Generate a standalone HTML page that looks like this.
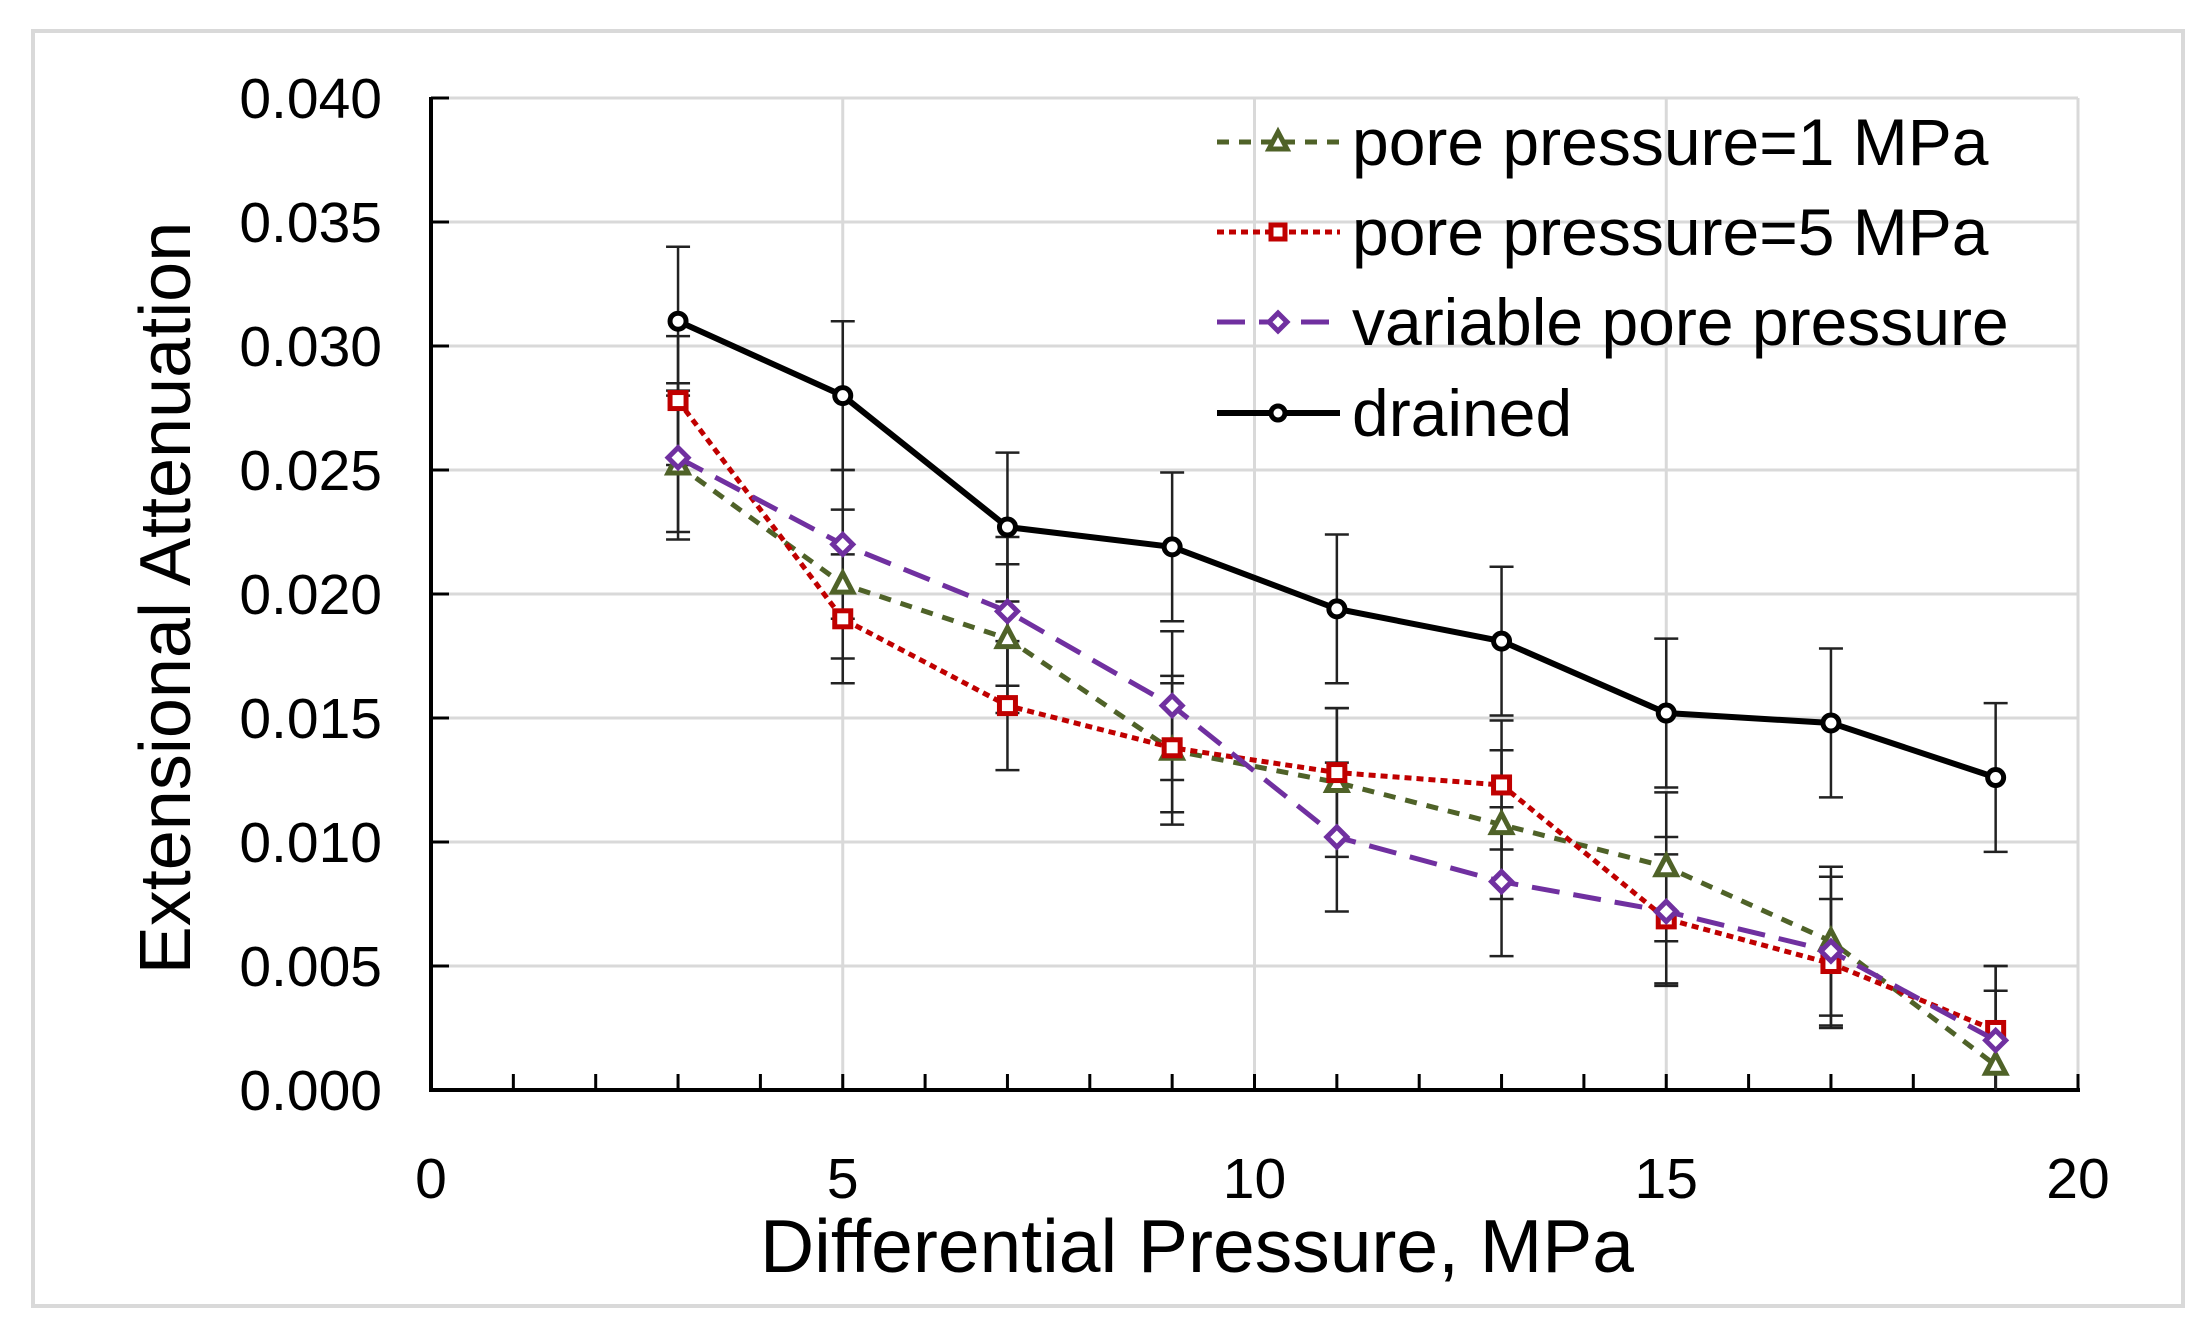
<!DOCTYPE html>
<html><head><meta charset="utf-8"><style>
html,body{margin:0;padding:0;background:#fff;}
svg{display:block;font-family:"Liberation Sans",Arial,sans-serif;}
</style></head><body>
<svg id="chart" width="2212" height="1337" viewBox="0 0 2212 1337">
<defs><clipPath id="plotclip"><rect x="431" y="90" width="1660" height="1000"/></clipPath></defs>
<rect x="33" y="31" width="2150" height="1275" fill="#fff" stroke="#d9d9d9" stroke-width="4"/>
<g id="grid"></g><g id="axes"></g><g id="series" clip-path="url(#plotclip)"></g><g id="legend"></g>
<text x="1197" y="1272" font-size="75" text-anchor="middle">Differential Pressure, MPa</text>
<text transform="translate(190,598) rotate(-90)" font-size="72" text-anchor="middle">Extensional Attenuation</text>
</svg>
<script>
const xCats = [3,5,7,9,11,13,15,17,19];
const drained = [0.031,0.028,0.0227,0.0219,0.0194,0.0181,0.0152,0.0148,0.0126];
const pp1 = [0.0252,0.0204,0.0182,0.0137,0.0124,0.0107,0.009,0.006,0.001];
const pp5 = [0.0278,0.019,0.0155,0.0138,0.0128,0.0123,0.0069,0.0051,0.0024];
const variable = [0.0255,0.022,0.0193,0.0155,0.0102,0.0084,0.0072,0.0056,0.002];
const drainedErr = [0.003,0.003,0.003,0.003,0.003,0.003,0.003,0.003,0.003];
const pp1Err = [0.003,0.003,0.003,0.003,0.003,0.003,0.003,0.003,0.003];
const pp5Err = [0.0026,0.0026,0.0026,0.0026,0.0026,0.0026,0.0026,0.0026,0.0026];
const varErr = [0.003,0.003,0.003,0.003,0.003,0.003,0.003,0.003,0.003];
const yTicks = [0,0.005,0.01,0.015,0.02,0.025,0.03,0.035,0.04];
const yTickLabels = ["0.000","0.005","0.010","0.015","0.020","0.025","0.030","0.035","0.040"];
const xTicks = [0,5,10,15,20];
const xTickLabels = ["0","5","10","15","20"];

const NS="http://www.w3.org/2000/svg";
const X0=431,X1=2078,Y0=1090,Y1=98;
const sx=v=>X0+(v-0)/(20-0)*(X1-X0);
const sy=v=>Y0-(v-0)/(0.04-0)*(Y0-Y1);
function mk(tag,attrs,parent){const e=document.createElementNS(NS,tag);for(const k in attrs)e.setAttribute(k,attrs[k]);parent.appendChild(e);return e;}
const grid=document.getElementById('grid'),axes=document.getElementById('axes'),ser=document.getElementById('series'),leg=document.getElementById('legend');

yTicks.forEach((t,i)=>{
  if(t>0){const g=mk('line',{x1:X0,x2:X1,y1:sy(t),y2:sy(t),stroke:'#d9d9d9','stroke-width':3},grid);
  
  }
  const tk=mk('line',{x1:X0,x2:X0+18,y1:sy(t),y2:sy(t),stroke:'#000','stroke-width':3},axes);
  
  
  const lb=mk('text',{x:382,y:sy(t)+20,'font-size':57,'text-anchor':'end'},axes);lb.textContent=yTickLabels[i];
  
  
});
xTicks.forEach((t,i)=>{
  if(t>0){const g=mk('line',{x1:sx(t),x2:sx(t),y1:Y1,y2:Y0,stroke:'#d9d9d9','stroke-width':3},grid);
  
  }
  const lb=mk('text',{x:sx(t),y:1198,'font-size':57,'text-anchor':'middle'},axes);lb.textContent=xTickLabels[i];
  
  
});
for(let v=1;v<=20;v++){
  const tk=mk('line',{x1:sx(v),x2:sx(v),y1:Y0,y2:Y0-16,stroke:'#000','stroke-width':3},axes);
  
  
}
const ya=mk('line',{x1:X0,x2:X0,y1:Y1-1,y2:Y0+2,stroke:'#000','stroke-width':4},axes);


const xa=mk('line',{x1:X0-2,x2:X1+2,y1:Y0,y2:Y0,stroke:'#000','stroke-width':4},axes);



function marker(type,cx,cy,color,parent,size){
  const s=size||10;let m;
  if(type==='tri') m=mk('polygon',{points:`${cx},${cy-s-1} ${cx-s},${cy+s-2} ${cx+s},${cy+s-2}`},parent);
  else if(type==='sq') m=mk('rect',{x:cx-s+2,y:cy-s+2,width:2*s-4,height:2*s-4},parent);
  else if(type==='dia') m=mk('polygon',{points:`${cx},${cy-s} ${cx+s},${cy} ${cx},${cy+s} ${cx-s},${cy}`},parent);
  else m=mk('circle',{cx:cx,cy:cy,r:s-2},parent);
  m.setAttribute('fill','#fff');m.setAttribute('stroke',color);m.setAttribute('stroke-width',5);
  return m;
}
const defs=[
 {name:'pp1',vals:pp1,err:pp1Err,color:'#4f6228',dash:'12 10',w:5,m:'tri',label:'pore pressure=1 MPa'},
 {name:'pp5',vals:pp5,err:pp5Err,color:'#c00000',dash:'7 5',w:5,m:'sq',label:'pore pressure=5 MPa'},
 {name:'variable',vals:variable,err:varErr,color:'#7030a0',dash:'28 14',w:5,m:'dia',label:'variable pore pressure'},
 {name:'drained',vals:drained,err:drainedErr,color:'#000',dash:'',w:6,m:'circ',label:'drained'}
];
defs.forEach(d=>{
  d.vals.forEach((v,i)=>{
    const x=sx(xCats[i]),yt=sy(v+d.err[i]),yb=sy(v-d.err[i]);
    const g=mk('g',{stroke:'#222','stroke-width':2.5},ser);
    
    
    mk('line',{x1:x,x2:x,y1:yt,y2:yb},g);
    mk('line',{x1:x-12,x2:x+12,y1:yt,y2:yt},g);
    mk('line',{x1:x-12,x2:x+12,y1:yb,y2:yb},g);
  });
});
defs.forEach(d=>{
  const pts=d.vals.map((v,i)=>sx(xCats[i])+','+sy(v)).join(' ');
  const pl=mk('polyline',{points:pts,fill:'none',stroke:d.color,'stroke-width':d.w,'stroke-dasharray':d.dash},ser);
  
  
  d.vals.forEach((v,i)=>{
    const m=marker(d.m,sx(xCats[i]),sy(v),d.color,ser);
    
    
  });
});
const legY=[142,232,322,413];
defs.forEach((d,i)=>{
  const g=mk('g',{},leg);
  
  
  mk('line',{x1:1217,x2:1340,y1:legY[i],y2:legY[i],stroke:d.color,'stroke-width':d.w,'stroke-dasharray':d.dash},g);
  marker(d.m,1278,legY[i],d.color,g,9);
  const t=mk('text',{x:1352,y:legY[i]+23,'font-size':66},g);t.textContent=d.label;
});
</script>
</body></html>
